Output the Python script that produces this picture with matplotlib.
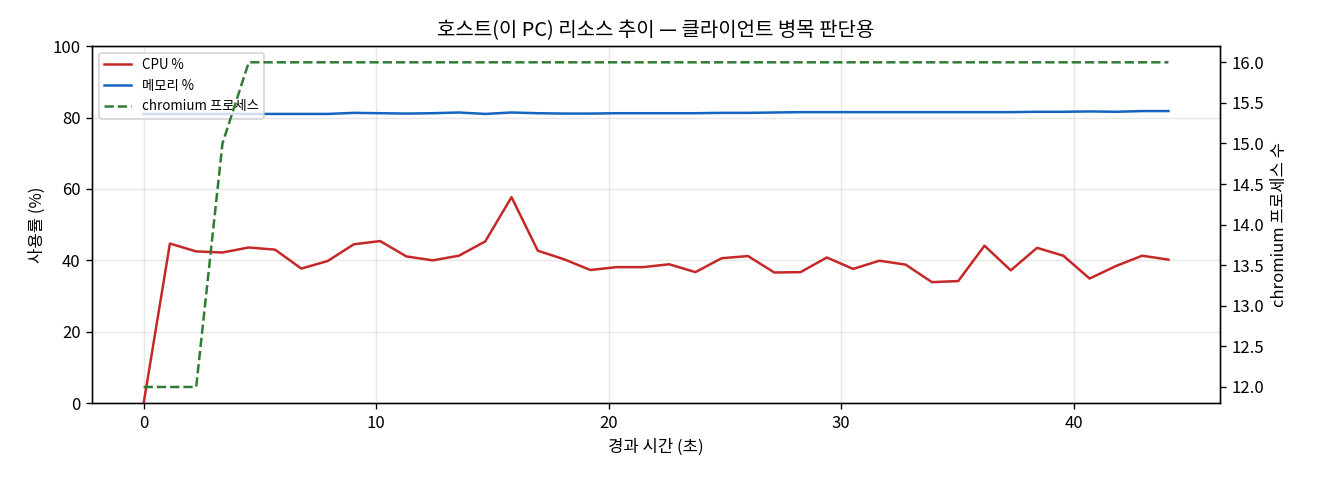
import numpy as np
import matplotlib
matplotlib.use("Agg")
import matplotlib.pyplot as plt

plt.rcParams['font.family'] = ['Noto Sans CJK KR', 'DejaVu Sans']
plt.rcParams['axes.unicode_minus'] = False

# elapsed seconds (sampled about every 1.13 s)
elapsed = [0.0, 1.13, 2.26, 3.39, 4.52, 5.65, 6.78, 7.91, 9.04, 10.17,
           11.30, 12.43, 13.56, 14.69, 15.82, 16.95, 18.08, 19.21, 20.34, 21.47,
           22.60, 23.73, 24.86, 25.99, 27.12, 28.25, 29.38, 30.51, 31.64, 32.77,
           33.90, 35.03, 36.16, 37.29, 38.42, 39.55, 40.68, 41.81, 42.94, 44.07]

cpu = [0.0, 44.7, 42.5, 42.2, 43.6, 43.0, 37.7, 39.8, 44.5, 45.4,
       41.1, 40.0, 41.3, 45.3, 57.7, 42.7, 40.3, 37.3, 38.1, 38.1,
       38.9, 36.7, 40.6, 41.2, 36.6, 36.7, 40.8, 37.6, 39.9, 38.8,
       33.9, 34.2, 44.1, 37.2, 43.5, 41.3, 34.9, 38.4, 41.3, 40.2]

mem = [81.0, 81.0, 81.0, 81.0, 81.0, 81.0, 81.0, 81.0, 81.3, 81.2,
       81.1, 81.2, 81.4, 81.0, 81.4, 81.2, 81.1, 81.1, 81.2, 81.2,
       81.2, 81.2, 81.3, 81.3, 81.4, 81.5, 81.5, 81.5, 81.5, 81.5,
       81.5, 81.5, 81.5, 81.5, 81.6, 81.6, 81.7, 81.6, 81.8, 81.8]

chromium = [12, 12, 12, 15, 16, 16, 16, 16, 16, 16,
            16, 16, 16, 16, 16, 16, 16, 16, 16, 16,
            16, 16, 16, 16, 16, 16, 16, 16, 16, 16,
            16, 16, 16, 16, 16, 16, 16, 16, 16, 16]

fig, ax = plt.subplots(figsize=(11, 4), dpi=120)
l1, = ax.plot(elapsed, cpu, color="#c62828", lw=1.5, label="CPU %")
l2, = ax.plot(elapsed, mem, color="#1565c0", lw=1.5, label="메모리 %")
ax.set_ylim(0, 100)
ax.set_xlabel("경과 시간 (초)")
ax.set_ylabel("사용률 (%)")
ax.grid(True, alpha=0.3)

ax2 = ax.twinx()
l3, = ax2.plot(elapsed, chromium, color="#2e7d32", lw=1.5, ls="--", label="chromium 프로세스")
ax2.set_ylabel("chromium 프로세스 수")

ax.legend(handles=[l1, l2, l3], loc="upper left", fontsize=8)
ax.set_title("호스트(이 PC) 리소스 추이 — 클라이언트 병목 판단용")

fig.subplots_adjust(left=0.07, right=0.924, top=0.904, bottom=0.16)
fig.savefig("out.png")
